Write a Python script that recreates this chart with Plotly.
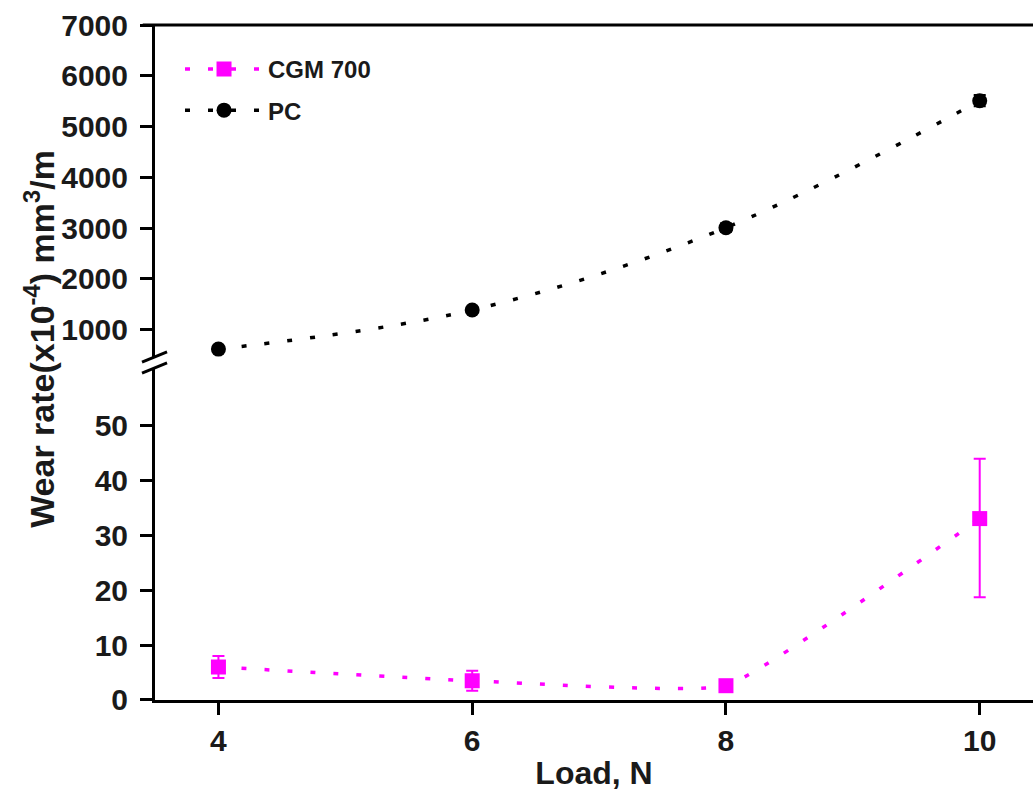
import plotly.graph_objects as go

loads = [4, 6, 8, 10]
cgm = [6.0, 3.5, 2.6, 33.0]
cgm_err_plus = [2.0, 1.8, 0.5, 10.9]
cgm_err_minus = [2.0, 1.8, 0.5, 14.3]
pc = [620, 1390, 3010, 5510]
pc_err = [40, 60, 80, 110]

y_ticks_low = [0, 10, 20, 30, 40, 50]
y_ticks_high = [1000, 2000, 3000, 4000, 5000, 6000, 7000]
x_ticks = [4, 6, 8, 10]

MAG = "#ff00ff"
FONT = "Liberation Sans"
TXT = "#1a1a1a"

fig = go.Figure()
fig.add_trace(go.Scatter(
    x=loads, y=cgm, name="CGM 700", mode="lines+markers", legendgroup="a",
    line=dict(color=MAG, width=3.5, dash="5px,18px", shape="spline", smoothing=0.35),
    marker=dict(symbol="square", size=15, color=MAG),
    error_y=dict(type="data", array=cgm_err_plus, arrayminus=cgm_err_minus,
                 color=MAG, thickness=2, width=6),
    xaxis="x", yaxis="y"))
fig.add_trace(go.Scatter(
    x=loads, y=pc, name="PC", mode="lines+markers", legendgroup="b",
    line=dict(color="black", width=3.5, dash="5px,18px", shape="spline"),
    marker=dict(symbol="circle", size=15, color="black"),
    error_y=dict(type="data", array=pc_err, color="black", thickness=2, width=6),
    xaxis="x", yaxis="y2"))

tickfont = dict(family=FONT, size=30, color=TXT, weight="bold")
axis_common = dict(showline=True, linewidth=3, linecolor="black", ticks="outside",
                   ticklen=12, tickwidth=3, tickcolor="black", showgrid=False,
                   zeroline=False, tickfont=tickfont)

fig.update_layout(
    width=1033, height=793,
    margin=dict(l=155, r=0, t=25, b=93),
    plot_bgcolor="white", paper_bgcolor="white",
    showlegend=True,
    legend=dict(x=0.0285, y=0.9676, xanchor="left", yanchor="top",
                bgcolor="rgba(0,0,0,0)",
                font=dict(family=FONT, size=24, color=TXT, weight="bold"),
                tracegroupgap=7, itemwidth=78),
    xaxis=dict(range=[3.5, 10.42], tickvals=x_ticks, anchor="y",
               title=dict(text="Load, N", font=dict(family=FONT, size=32, color=TXT, weight="bold"),
                          standoff=6),
               **axis_common),
    yaxis=dict(domain=[0, 0.4919], range=[0, 60.4], tickvals=y_ticks_low,
               ticklabelstandoff=6, **axis_common),
    yaxis2=dict(domain=[0.5067, 1], range=[445, 7000], tickvals=y_ticks_high, anchor="x",
                ticklabelstandoff=6, **axis_common),
)

fig.add_annotation(
    text="Wear rate(x10<sup>-4</sup>) mm<sup>3</sup>/m",
    xref="paper", yref="paper", x=-0.131, y=0.535, textangle=-90,
    showarrow=False, font=dict(family=FONT, size=34, color=TXT, weight="bold"),
    xanchor="center", yanchor="middle")

# top border line
fig.add_shape(type="line", xref="paper", yref="paper", x0=-0.014, x1=1, y0=1, y1=1,
              line=dict(color="black", width=3))
# axis break marks
for y0, y1 in [(0.5007, 0.5156), (0.4844, 0.4993)]:
    fig.add_shape(type="line", xref="paper", yref="paper", x0=-0.0148, x1=0.0137,
                  y0=y0, y1=y1, line=dict(color="black", width=3))

fig.write_html("out.html")
